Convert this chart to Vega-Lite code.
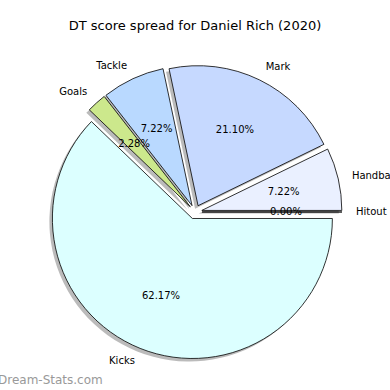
{
  "$schema": "https://vega.github.io/schema/vega-lite/v6.json",
  "width": 390,
  "height": 350,
  "padding": {"top": 40, "left": 0, "right": 0, "bottom": 0},
  "autosize": {"type": "none"},
  "background": "white",
  "view": {"stroke": null},
  "title": {"text": "DT score spread for Daniel Rich (2020)", "font": "DejaVu Sans", "fontSize": 13, "fontWeight": "normal", "color": "black", "anchor": "middle", "offset": 7},
  "data": {"values": [
    {"category": "Hitout", "pct": 0.00},
    {"category": "Handball", "pct": 7.22},
    {"category": "Mark", "pct": 21.10},
    {"category": "Tackle", "pct": 7.22},
    {"category": "Goals", "pct": 2.28},
    {"category": "Kicks", "pct": 62.17}
  ]},
  "transform": [
    {"joinaggregate": [{"op": "sum", "field": "pct", "as": "total"}]},
    {"window": [{"op": "sum", "field": "pct", "as": "cum"}], "frame": [null, 0]},
    {"calculate": "(datum.cum - datum.pct) / datum.total", "as": "start"},
    {"calculate": "datum.cum / datum.total", "as": "end"},
    {"calculate": "(datum.start + datum.end) / 2", "as": "mid"},
    {"calculate": "cos(2 * PI * datum.mid)", "as": "ex"},
    {"calculate": "sin(2 * PI * datum.mid)", "as": "ey"},
    {"calculate": "format(datum.pct, '.2f') + '%'", "as": "pctLabel"}
  ],
  "encoding": {
    "x": {"field": "ex", "type": "quantitative", "scale": {"domain": [-27.857, 27.857], "nice": false, "zero": false}, "axis": null},
    "y": {"field": "ey", "type": "quantitative", "scale": {"domain": [-25.4286, 24.5714], "nice": false, "zero": false}, "axis": null}
  },
  "layer": [
    {
      "mark": {"type": "arc", "radius": 140, "fill": "#555555", "opacity": 0.4, "xOffset": -3, "yOffset": 3},
      "encoding": {
        "theta": {"field": "start", "type": "quantitative", "stack": null, "scale": {"domain": [0, 1], "range": [1.5708, -4.7124]}},
        "theta2": {"field": "end"}
      }
    },
    {
      "mark": {"type": "arc", "radius": 140, "stroke": "black", "strokeWidth": 0.8},
      "encoding": {
        "theta": {"field": "start", "type": "quantitative", "stack": null, "scale": {"domain": [0, 1], "range": [1.5708, -4.7124]}},
        "theta2": {"field": "end"},
        "color": {"field": "category", "type": "nominal", "legend": null, "scale": {"domain": ["Hitout", "Handball", "Mark", "Tackle", "Goals", "Kicks"], "range": ["#f0f4ff", "#eaf0ff", "#c6d9ff", "#b9d9ff", "#cce88c", "#dcffff"]}}
      }
    },
    {
      "mark": {"type": "text", "radius": 84, "font": "DejaVu Sans", "fontSize": 10, "color": "black", "align": "center", "baseline": "middle"},
      "encoding": {
        "theta": {"field": "mid", "type": "quantitative", "stack": null, "scale": {"domain": [0, 1], "range": [1.5708, -4.7124]}},
        "text": {"field": "pctLabel"}
      }
    },
    {
      "transform": [{"filter": "datum.ex > 0"}],
      "mark": {"type": "text", "radius": 154, "font": "DejaVu Sans", "fontSize": 10, "color": "black", "align": "left", "baseline": "middle"},
      "encoding": {
        "theta": {"field": "mid", "type": "quantitative", "stack": null, "scale": {"domain": [0, 1], "range": [1.5708, -4.7124]}},
        "text": {"field": "category"}
      }
    },
    {
      "transform": [{"filter": "datum.ex <= 0"}],
      "mark": {"type": "text", "radius": 154, "font": "DejaVu Sans", "fontSize": 10, "color": "black", "align": "right", "baseline": "middle"},
      "encoding": {
        "theta": {"field": "mid", "type": "quantitative", "stack": null, "scale": {"domain": [0, 1], "range": [1.5708, -4.7124]}},
        "text": {"field": "category"}
      }
    },
    {
      "transform": [{"filter": "datum.category == 'Kicks'"}],
      "mark": {"type": "text", "font": "DejaVu Sans", "fontSize": 12, "color": "#999999", "align": "left", "baseline": "middle"},
      "encoding": {
        "x": {"value": -2},
        "y": {"value": 340},
        "text": {"value": "Dream-Stats.com"}
      }
    }
  ]
}
